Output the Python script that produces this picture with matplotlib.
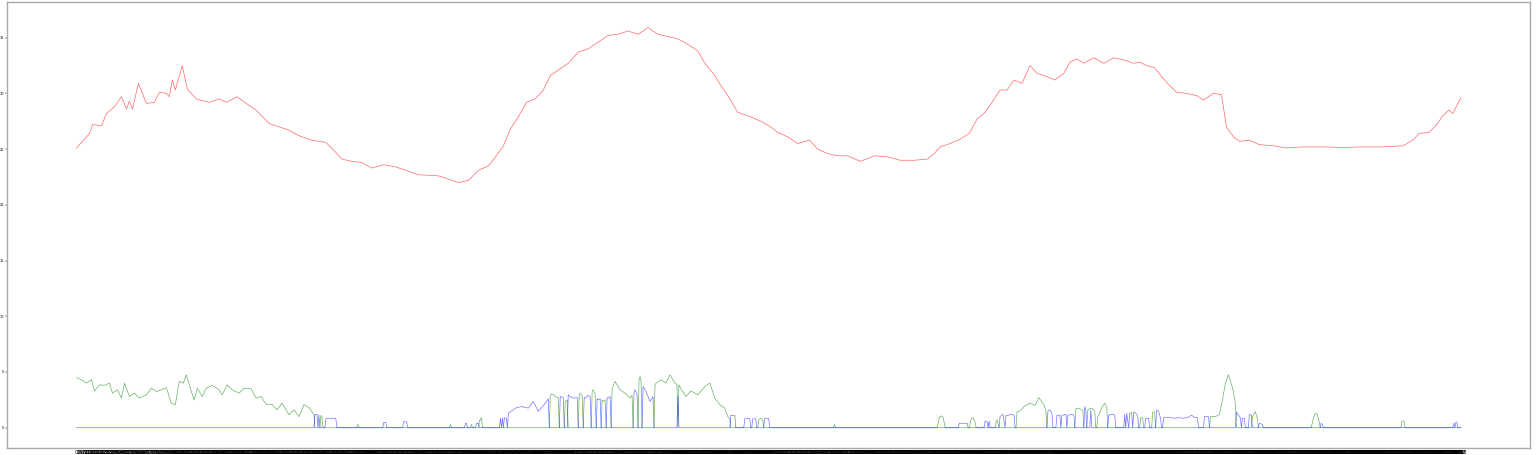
import matplotlib
matplotlib.use("Agg")
import matplotlib.pyplot as plt

# number of samples on the x axis (one tick per sample)
n_samples = 1389

# red series: (sample, value)
red_x = [0, 13, 16, 25, 30, 38, 45, 50, 53, 56, 62, 70, 78, 83, 90, 93, 96, 99, 106, 111,
         120, 133, 143, 150, 161, 170, 180, 193, 203, 213, 223, 236, 250, 260, 266, 276, 286,
         296, 308, 320, 333, 343, 363, 383, 393, 403, 413, 421, 428, 435, 443, 451, 460, 468,
         475, 483, 493, 503, 513, 523, 533, 543, 553, 563, 573, 583, 593, 603, 613, 623, 630,
         640, 646, 653, 663, 676, 686, 696, 703, 713, 723, 735, 743, 753, 763, 773, 786, 800,
         813, 826, 840, 853, 860, 866, 876, 886, 895, 903, 911, 918, 926, 933, 940, 948, 956,
         963, 973, 981, 990, 996, 1003, 1010, 1020, 1030, 1040, 1050, 1060, 1066, 1073, 1081,
         1088, 1096, 1103, 1113, 1123, 1130, 1140, 1148, 1153, 1160, 1166, 1176, 1186, 1200,
         1213, 1230, 1250, 1270, 1290, 1310, 1330, 1340, 1346, 1356, 1363, 1370, 1376, 1380, 1388]
red_y = [25.1, 26.4, 27.2, 27.1, 28.2, 28.8, 29.7, 28.6, 29.3, 28.6, 30.9, 29.1, 29.2, 30.1, 30.0,
         29.7, 31.2, 30.3, 32.5, 30.4, 29.5, 29.2, 29.5, 29.2, 29.7, 29.1, 28.5, 27.3, 27.0, 26.7,
         26.2, 25.8, 25.6, 24.7, 24.1, 23.9, 23.8, 23.3, 23.6, 23.4, 23.0, 22.7, 22.6, 22.0, 22.2,
         23.1, 23.5, 24.4, 25.3, 26.8, 27.9, 29.2, 29.5, 30.3, 31.6, 32.1, 32.7, 33.7, 34.0, 34.6,
         35.2, 35.3, 35.6, 35.3, 35.9, 35.3, 35.1, 34.9, 34.4, 33.8, 32.7, 31.6, 30.7, 29.8, 28.3,
         27.9, 27.5, 27.0, 26.5, 26.1, 25.5, 25.8, 25.0, 24.6, 24.4, 24.4, 23.9, 24.4, 24.3, 24.0,
         24.0, 24.1, 24.6, 25.2, 25.5, 25.9, 26.4, 27.7, 28.3, 29.2, 30.3, 30.3, 31.2, 30.9, 32.5,
         31.8, 31.5, 31.2, 31.8, 32.8, 33.1, 32.7, 33.2, 32.7, 33.2, 33.0, 32.7, 32.8, 32.5, 32.3,
         31.5, 30.7, 30.1, 30.0, 29.8, 29.4, 30.0, 29.9, 27.0, 26.1, 25.7, 25.8, 25.4, 25.3,
         25.1, 25.2, 25.2, 25.15, 25.2, 25.2, 25.3, 25.8, 26.4, 26.5, 27.1, 28.0, 28.5, 28.2, 29.6]

# green series
green_x = [0, 5, 10, 15, 18, 23, 28, 33, 36, 41, 45, 48, 53, 58, 63, 70, 75, 80, 85, 90, 95, 99,
           103, 107, 110, 115, 118, 121, 126, 130, 136, 143, 146, 151, 156, 163, 168, 175, 180,
           185, 190, 196, 201, 206, 213, 218, 223, 228, 233, 238, 239, 244, 245, 246, 247,
           281, 282, 283, 374, 375, 376, 395, 396, 397, 403, 404, 406, 407,
           474, 475, 478, 480, 483, 484, 489, 490, 492, 493, 503, 504, 505, 507, 508, 516, 517,
           518, 520, 521, 526, 527, 528, 530, 531, 536, 537, 540, 545, 550, 555, 557, 558, 563,
           564, 565, 566, 567, 579, 580, 581, 586, 591, 595, 600, 602, 603, 604, 606, 611, 616,
           623, 630, 635, 640, 645, 650, 653, 655, 656,
           683, 684, 686, 688, 689, 759, 760, 761, 863, 865, 867, 869, 871, 895, 897, 899, 901,
           902, 921, 922, 923, 925, 942, 943, 946, 950, 956, 961, 965, 968, 970, 972, 973,
           1001, 1002, 1005, 1009, 1010, 1013, 1014, 1018, 1021, 1022, 1023, 1024, 1025, 1028,
           1031, 1033, 1034, 1066, 1067, 1069, 1070, 1078, 1079, 1081, 1082, 1136, 1137, 1142,
           1146, 1149, 1152, 1155, 1158, 1160, 1162, 1163, 1178, 1179, 1182, 1184, 1185, 1238,
           1240, 1242, 1244, 1246, 1247, 1328, 1329, 1331, 1332, 1388]
green_y = [4.5, 4.3, 4.0, 4.3, 3.3, 3.85, 3.8, 4.0, 3.1, 3.4, 2.66, 4.0, 2.8, 3.1, 2.66, 2.95, 3.55,
           3.25, 3.4, 3.6, 2.2, 2.06, 4.15, 4.0, 4.75, 3.25, 2.5, 3.55, 2.8, 3.55, 3.8, 3.4, 2.95,
           3.85, 3.4, 3.1, 3.55, 3.5, 2.66, 2.8, 2.1, 2.1, 1.6, 2.2, 1.16, 1.6, 1.0, 2.06, 1.8, 1.2,
           0, 0, 1.1, 1.0, 0,
           0, 0.3, 0, 0, 0.3, 0, 0, 0.3, 0, 0, 0.6, 0.9, 0,
           0, 2.95, 3.0, 2.8, 2.7, 0, 0, 2.36, 2.5, 0, 0, 3.0, 3.1, 2.9, 0, 0, 3.3,
           3.4, 3.0, 0, 0, 2.5, 2.36, 2.5, 0, 0, 3.5, 4.15, 3.4, 3.1, 2.66, 2.9, 0, 0,
           4.3, 4.6, 4.2, 0, 0, 3.8, 4.0, 4.3, 4.0, 4.75, 4.0, 3.9, 0, 3.85, 3.5, 2.8, 3.3,
           2.95, 3.7, 4.0, 2.66, 2.06, 1.76, 1.0, 0.8, 0,
           0, 0.7, 0.84, 0.7, 0, 0, 0.3, 0, 0, 0.9, 1.07, 0.9, 0, 0, 0.8, 0.9, 0.5,
           0, 0, 0.5, 0.7, 0, 0, 1.43, 1.5, 1.9, 2.2, 2.0, 2.7, 2.3, 2.06, 1.5, 0,
           0, 1.7, 1.76, 1.5, 0, 0, 1.6, 1.76, 1.5, 0, 0, 1.0, 1.13, 1.8,
           2.2, 1.8, 0, 0, 0.9, 0.9, 0, 0, 1.4, 1.43, 0, 0, 1.0, 1.0,
           1.2, 2.5, 4.0, 4.75, 3.9, 3.25, 2.2, 0, 0, 1.0, 1.43, 0.8, 0, 0,
           0.8, 1.3, 1.2, 0.5, 0, 0, 0.6, 0.6, 0, 0]

# blue series
blue_x = [0, 238, 239, 241, 242, 243, 244, 249, 250, 252, 258, 260, 261,
          307, 308, 310, 311, 327, 328, 331, 332, 389, 390, 391, 392, 400, 401, 403, 404,
          424, 425, 426, 427, 428, 429, 431, 432, 433, 440, 446, 453, 458, 463, 470, 473, 474,
          484, 485, 488, 489, 492, 493, 495, 498, 502, 503, 508, 509, 510, 513, 515, 516,
          521, 522, 523, 525, 526, 531, 532, 533, 535, 536, 558, 559, 560, 562, 563,
          567, 568, 571, 575, 578, 579, 602, 603, 604, 655, 656, 660, 661,
          669, 670, 672, 675, 676, 677, 678, 681, 682, 689, 690, 694, 695,
          884, 885, 893, 894, 910, 911, 913, 914, 915, 916, 925, 926, 929, 931, 932, 935, 937,
          940, 941, 973, 974, 976, 978, 979, 982, 983, 986, 987, 988, 992, 993, 994, 997, 1000,
          1001, 1010, 1011, 1012, 1013, 1016, 1017, 1018, 1034, 1035, 1038, 1041, 1042,
          1050, 1051, 1052, 1053, 1055, 1056, 1058, 1059, 1060, 1062, 1064, 1065, 1071, 1072,
          1075, 1076, 1082, 1083, 1085, 1087, 1088, 1089, 1090, 1095, 1100, 1105, 1110, 1115,
          1118, 1121, 1124, 1125, 1130, 1131, 1135, 1136, 1162, 1163, 1165, 1167, 1168, 1169,
          1171, 1172, 1175, 1176, 1178, 1179, 1185, 1186, 1189, 1190, 1247, 1248, 1249, 1250,
          1380, 1381, 1382, 1383, 1384, 1385, 1388]
blue_y = [0, 0, 1.2, 1.2, 0, 1.15, 0, 0, 0.8, 0.85, 0.85, 0.8, 0,
          0, 0.48, 0.48, 0, 0, 0.54, 0.54, 0, 0, 0.4, 0.4, 0, 0, 0.4, 0.4, 0,
          0, 0.84, 0, 0.9, 0, 0.9, 0.84, 0, 1.3, 1.76, 1.9, 1.76, 2.36, 1.46, 2.2, 2.6, 0,
          0, 2.8, 2.7, 0, 0, 2.95, 2.8, 2.66, 2.7, 0, 0, 2.7, 2.66, 2.9, 2.8, 0,
          0, 2.6, 2.5, 2.6, 0, 0, 2.7, 2.66, 2.8, 0, 0, 3.2, 3.4, 3.0, 0,
          0, 3.7, 3.25, 2.36, 2.8, 0, 0, 2.8, 0, 0, 1.1, 1.1, 0,
          0, 0.8, 0.84, 0.84, 0, 0, 0.8, 0.8, 0, 0, 0.84, 0.84, 0,
          0, 0.4, 0.4, 0, 0, 0.6, 0.5, 0, 0.6, 0, 0, 1.0, 1.2, 0, 1.1, 1.13, 1.2,
          1.13, 0, 0, 1.5, 1.6, 1.3, 0, 0, 1.1, 1.13, 0, 1.1, 1.2, 0, 1.1, 1.2, 1.13,
          0, 0, 1.9, 1.5, 0, 0, 1.6, 0, 0, 1.13, 1.2, 1.13, 0,
          0, 1.2, 0, 1.3, 0, 1.3, 1.35, 0, 1.4, 1.3, 1.1, 0, 0, 0.84,
          0.84, 0, 0, 1.6, 1.5, 0.8, 0, 0, 0.9, 0.95, 0.85, 0.9, 0.85, 0.95,
          1.13, 0.9, 0.9, 0, 0, 1.0, 1.0, 0, 0, 1.4, 1.13, 0.9, 0, 0.84,
          0.84, 0, 0, 1.2, 1.13, 0, 0, 0.4, 0.3, 0, 0, 0.4, 0.3, 0,
          0, 0.4, 0, 0.5, 0.5, 0, 0]

tick_labels = [str(i) for i in range(n_samples)]

fig = plt.figure(figsize=(15.36, 4.55), dpi=100)
ax = fig.add_axes([0.0048, 0.0154, 0.9913, 0.9802])

ax.plot(red_x, red_y, color='red', lw=0.5, alpha=0.6)
ax.plot(green_x, green_y, color='green', lw=0.5, alpha=0.6)
ax.plot(blue_x, blue_y, color='blue', lw=0.5, alpha=0.55)

ax.set_ylim(-1.82, 38.2)
ax.set_yticks([0, 5, 10, 15, 20, 25, 30, 35])
ax.set_xticks(range(n_samples))
ax.set_xticklabels(tick_labels)
ax.tick_params(axis='y', labelsize=2.5, length=1.5, width=0.3, pad=0.8)
ax.tick_params(axis='x', labelsize=3.5, length=1.0, width=0.3, pad=0.3)

for s in ax.spines.values():
    s.set_color('#aaaaaa')
    s.set_linewidth(1.0)

fig.savefig('out.png', dpi=100)
